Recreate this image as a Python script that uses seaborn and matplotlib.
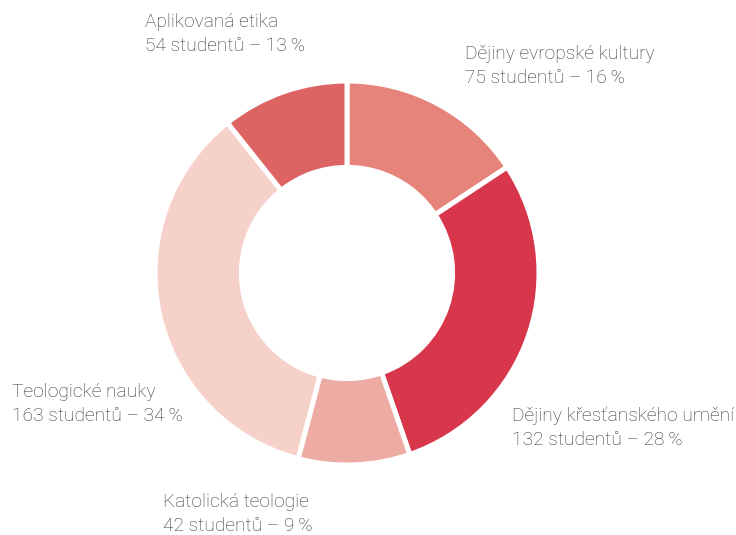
import matplotlib
matplotlib.use("Agg")
import matplotlib.pyplot as plt
import seaborn as sns

categories = ["Dějiny evropské kultury", "Dějiny křesťanského umění", "Katolická teologie",
              "Teologické nauky", "Aplikovaná etika"]
students = [75, 132, 42, 163, 54]
percent_labels = ["16", "28", "9", "34", "13"]
# wedge sizes as drawn in the reference (share of the ring, %)
wedge_share = [15.7, 29.0, 9.4, 35.2, 10.7]
colors = ["#E6837B", "#D8364A", "#EDABA3", "#F6D1CA", "#DE6363"]

sns.set_theme(style="white")
plt.rcParams['font.family'] = ['Roboto', 'DejaVu Sans']

W, H = 736, 535
fig = plt.figure(figsize=(W / 100, H / 100), dpi=100)
cx, cy, R = 347, 273, 192
ax = fig.add_axes([(cx - R) / W, (H - cy - R) / H, 2 * R / W, 2 * R / H])
ax.pie(wedge_share, colors=colors, startangle=90, counterclock=False, radius=1.0,
       wedgeprops=dict(width=0.45, edgecolor="white", linewidth=3.6))
ax.set_xlim(-1, 1)
ax.set_ylim(-1, 1)
ax.set_aspect("equal")
ax.axis("off")

label_pos = [(465, 54), (512, 416), (163, 502), (12, 392), (145, 22)]
for cat, n, p, (x, y) in zip(categories, students, percent_labels, label_pos):
    fig.text(x / W, 1 - y / H, cat, ha="left", va="center", fontsize=13.8,
             fontweight="light", color="#333333")
    fig.text(x / W, 1 - (y + 24) / H, f"{n} studentů \u2013 {p}\u2009%",
             ha="left", va="center", fontsize=13.8, fontweight="light", color="#333333")

fig.savefig("out.png", dpi=100, facecolor="white")
